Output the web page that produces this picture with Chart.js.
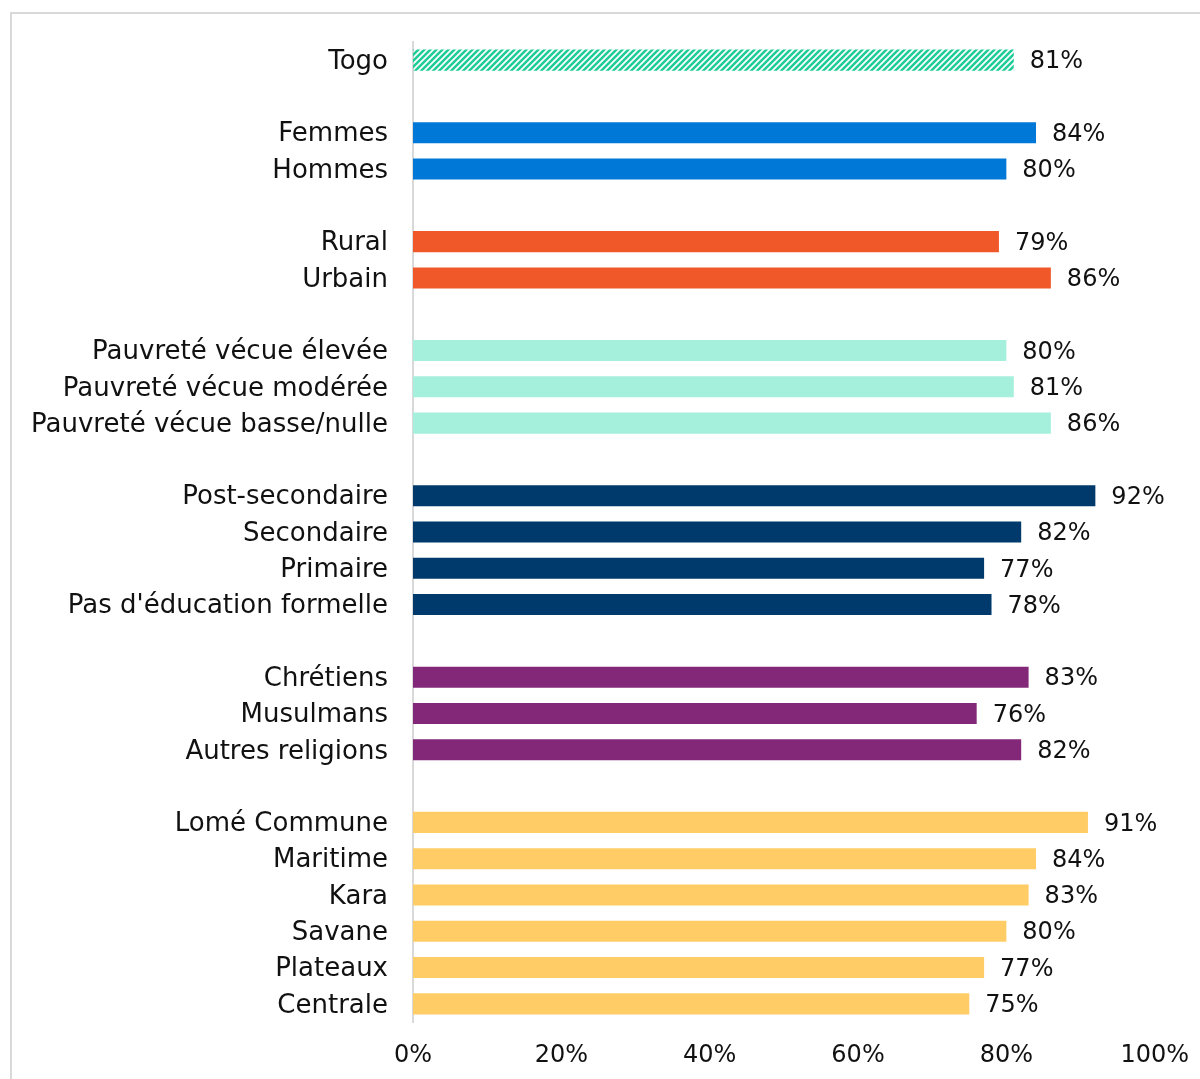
<!DOCTYPE html>
<html lang="fr">
<head>
    <meta charset="UTF-8">
    <title>Résultats par groupe</title>
    <script src="https://cdn.jsdelivr.net/npm/chart.js"></script>
    <style>
        html, body { margin: 0; padding: 0; background: #fff; }
        #wrap { position: relative; width: 1200px; height: 1079px; }
        #frame { position: absolute; left: 10px; top: 12px; right: -5px; bottom: -5px; border: 2px solid #d9d9d9; }
    </style>
</head>
<body>
<div id="wrap">
    <div id="frame"></div>
    <canvas id="barChart" width="1200" height="1079"></canvas>
</div>
<script>
    // Lignes vides ('' / null) pour séparer les groupes
    var categories = [
        'Togo', '',
        'Femmes', 'Hommes', '',
        'Rural', 'Urbain', '',
        'Pauvreté vécue élevée', 'Pauvreté vécue modérée', 'Pauvreté vécue basse/nulle', '',
        'Post-secondaire', 'Secondaire', 'Primaire', "Pas d'éducation formelle", '',
        'Chrétiens', 'Musulmans', 'Autres religions', '',
        'Lomé Commune', 'Maritime', 'Kara', 'Savane', 'Plateaux', 'Centrale'
    ];
    var values = [
        81, null,
        84, 80, null,
        79, 86, null,
        80, 81, 86, null,
        92, 82, 77, 78, null,
        83, 76, 82, null,
        91, 84, 83, 80, 77, 75
    ];
    var groupIndex = [
        0, -1,
        1, 1, -1,
        2, 2, -1,
        3, 3, 3, -1,
        4, 4, 4, 4, -1,
        5, 5, 5, -1,
        6, 6, 6, 6, 6, 6
    ];
    var xTicks = [0, 20, 40, 60, 80, 100];

    var FONT = '"DejaVu Sans", sans-serif';
    var TEXT = '#111111';

    // motif hachuré pour la barre "Togo"
    function hatch() {
        var c = document.createElement('canvas');
        c.width = 6; c.height = 6;
        var g = c.getContext('2d');
        g.strokeStyle = '#1fcc98';
        g.lineWidth = 2.5;
        g.beginPath();
        g.moveTo(-2, 8); g.lineTo(8, -2);
        g.moveTo(-2, 2); g.lineTo(2, -2);
        g.moveTo(4, 8); g.lineTo(8, 4);
        g.stroke();
        return g.createPattern(c, 'repeat');
    }

    var palette = [hatch(), '#0078d7', '#f0582a', '#a5f0dc', '#003a6c', '#832878', '#ffcc66'];
    var colors = groupIndex.map(function (g) { return g < 0 ? 'rgba(0,0,0,0)' : palette[g]; });

    var valueLabels = {
        id: 'valueLabels',
        afterDatasetsDraw: function (chart) {
            var ctx = chart.ctx;
            var meta = chart.getDatasetMeta(0);
            ctx.save();
            ctx.font = '24px ' + FONT;
            ctx.fillStyle = TEXT;
            ctx.textAlign = 'left';
            ctx.textBaseline = 'middle';
            meta.data.forEach(function (bar, i) {
                if (values[i] == null) return;
                ctx.fillText(values[i] + '%', bar.x + 16, bar.y + 2);
            });
            ctx.restore();
        }
    };

    var ctx = document.getElementById('barChart').getContext('2d');
    new Chart(ctx, {
        type: 'bar',
        data: {
            labels: categories,
            datasets: [{
                data: values,
                backgroundColor: colors,
                borderWidth: 0,
                categoryPercentage: 1,
                barPercentage: 0.58
            }]
        },
        plugins: [valueLabels],
        options: {
            indexAxis: 'y',
            responsive: false,
            animation: false,
            layout: { padding: { top: 42, right: 43, bottom: 0, left: 0 } },
            plugins: { legend: { display: false }, tooltip: { enabled: false } },
            scales: {
                x: {
                    min: 0,
                    max: 100,
                    afterBuildTicks: function (scale) {
                        scale.ticks = xTicks.map(function (v) { return { value: v }; });
                    },
                    afterFit: function (scale) { scale.height = 57; },
                    grid: { display: false },
                    border: { display: false },
                    ticks: {
                        padding: 11,
                        color: TEXT,
                        font: { family: FONT, size: 24 },
                        maxRotation: 0,
                        callback: function (v) { return v + '%'; }
                    }
                },
                y: {
                    afterFit: function (scale) { scale.width = 413; },
                    grid: { display: false },
                    border: { display: true, color: '#d9d9d9', width: 2 },
                    ticks: {
                        padding: 17,
                        labelOffset: 2,
                        autoSkip: false,
                        color: TEXT,
                        font: { family: FONT, size: 26 }
                    }
                }
            }
        }
    });
</script>
</body>
</html>
